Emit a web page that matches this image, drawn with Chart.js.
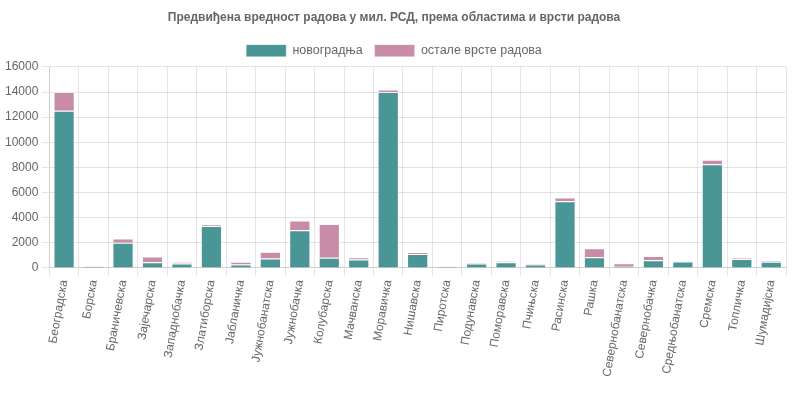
<!DOCTYPE html>
<html><head><meta charset="utf-8">
<script src="https://cdn.jsdelivr.net/npm/chart.js@4/dist/chart.umd.min.js"></script>
<style>html,body{margin:0;padding:0;background:#fff}#wrap{width:794px;height:397px}</style>
</head><body><div id="wrap"><canvas id="c"></canvas></div>
<script>
const categories = ["Београдска","Борска","Браничевска","Зајечарска","Западнобачка","Златиборска","Јабланичка","Јужнобанатска","Јужнобачка","Колубарска","Мачванска","Моравичка","Нишавска","Пиротска","Подунавска","Поморавска","Пчињска","Расинска","Рашка","Севернобанатска","Севернобачка","Средњобанатска","Сремска","Топличка","Шумадијска"];
const novogradnja = [12500,120,2000,450,350,3330,270,750,3000,800,660,14000,1100,110,350,450,270,5300,850,100,600,500,8250,700,480];
const ostale = [1500,30,350,450,130,120,210,530,780,2700,190,200,170,30,70,70,80,300,720,270,350,50,350,100,100];
const seriesNames = ["новоградња","остале врсте радова"];
const yTicks = [0,2000,4000,6000,8000,10000,12000,14000,16000];

new Chart(document.getElementById('c'), {
  type: 'bar',
  data: {
    labels: categories,
    datasets: [
      {label: seriesNames[0], data: novogradnja, backgroundColor: '#4a9595', borderColor: 'rgba(255,255,255,0.35)', borderWidth: 1},
      {label: seriesNames[1], data: ostale, backgroundColor: '#c98ca6', borderColor: 'rgba(255,255,255,0.35)', borderWidth: 1}
    ]
  },
  options: {
    responsive: true, maintainAspectRatio: false, animation: false,
    layout: {padding: {left: 2, right: 8, top: 0, bottom: 16}},
    plugins: {
      title: {display: true, text: 'Предвиђена вредност радова у мил. РСД, према областима и врсти радова', color: '#666', font: {size: 12, weight: 'bold'}, padding: {top: 10, bottom: 8}},
      legend: {labels: {color: '#666', font: {size: 12.5}, boxWidth: 40, boxHeight: 12, padding: 12}},
      tooltip: {enabled: false}
    },
    scales: {
      x: {stacked: true, ticks: {color: '#666', font: {size: 12}, minRotation: 80, maxRotation: 80, autoSkip: false}, grid: {color: 'rgba(0,0,0,0.1)'}},
      y: {stacked: true, min: 0, max: 16000, afterBuildTicks: s => { s.ticks = yTicks.map(v => ({value: v})); }, ticks: {color: '#666', font: {size: 12}, callback: v => String(v)}, grid: {color: 'rgba(0,0,0,0.1)'}}
    }
  }
});
</script></body></html>
